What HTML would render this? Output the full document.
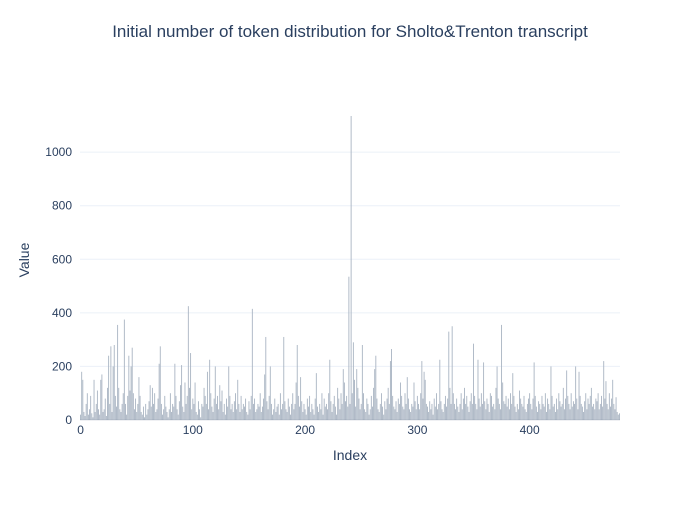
<!DOCTYPE html>
<html><head><meta charset="utf-8"><style>
body{margin:0;background:#fff;}
svg text{font-family:"Liberation Sans",sans-serif;fill:#2a3f5f;}
</style></head><body>
<svg width="700" height="500" id="chart">
<rect width="700" height="500" fill="#fff"/>
<text x="350" y="37" text-anchor="middle" font-size="17">Initial number of token distribution for Sholto&amp;Trenton transcript</text>
<g id="grid"></g>
<g id="bars"></g>
<g id="axes"></g>
<text x="350" y="460" text-anchor="middle" font-size="14">Index</text>
<text x="29" y="260" text-anchor="middle" font-size="14" transform="rotate(-90 29 260)">Value</text>
</svg>
<script>
const values = [
20,180,150,30,15,60,100,20,40,90,25,10,150,30,60,110,40,20,150,170,
30,40,80,15,120,240,60,275,30,200,280,90,50,355,120,40,30,60,100,375,
60,20,90,240,110,200,270,100,40,80,30,60,160,90,30,20,50,10,60,20,
40,70,130,50,120,60,100,30,40,80,210,275,60,20,40,90,50,30,10,40,
100,30,60,50,210,90,40,20,70,130,205,50,30,140,60,90,425,120,250,40,
80,60,140,30,20,70,40,10,60,50,120,90,60,180,40,225,100,50,30,80,
200,60,90,40,130,70,110,30,60,20,80,50,200,90,40,60,30,70,100,40,
150,60,30,90,40,60,50,80,30,20,70,40,90,415,60,80,30,40,60,50,
100,30,50,80,170,310,70,40,90,200,60,20,40,80,30,50,60,20,100,40,
60,310,70,40,30,80,50,20,60,100,40,60,140,280,90,50,160,70,30,60,
40,20,80,50,90,30,60,40,20,80,175,50,30,60,40,100,20,80,50,60,
40,100,225,70,30,60,90,50,20,120,80,40,100,60,190,140,70,90,50,535,
60,1135,100,290,150,50,190,120,80,40,60,280,100,40,30,80,60,20,40,90,
50,120,190,240,80,40,30,60,100,50,20,70,40,80,120,60,220,265,90,50,
40,70,30,80,60,140,90,50,40,100,60,160,80,40,30,60,50,140,70,40,
90,60,40,100,220,80,180,150,60,50,30,70,40,60,20,80,50,100,40,60,
225,70,40,30,60,90,50,80,330,120,60,350,100,60,40,80,50,30,60,100,
40,80,120,60,90,50,30,70,100,60,285,90,60,40,225,80,50,100,60,215,
70,40,80,60,30,100,90,50,60,40,120,200,80,60,40,355,140,70,60,90,
50,80,40,100,60,175,90,50,30,60,40,110,80,60,50,90,40,30,60,80,
100,60,40,80,215,90,50,30,70,60,40,90,60,50,100,30,80,60,40,200,
90,50,60,30,80,40,100,70,50,60,120,40,80,185,90,60,40,100,50,70,
60,200,80,40,180,90,60,50,30,70,100,40,80,60,90,120,50,60,40,80,
70,100,40,60,90,50,220,80,145,60,40,100,50,80,150,60,40,85,30,20,
25];
const xTicks = [0,100,200,300,400];
const yTicks = [0,200,400,600,800,1000];

const NS = "http://www.w3.org/2000/svg";
const L = 80, R = 620, T = 100, B = 420;
const xMin = -0.5, xMax = values.length - 0.5;
const yMax = Math.max(...values) * 1.0526;
const xs = v => L + (v - xMin) / (xMax - xMin) * (R - L);
const ys = v => B - v / yMax * (B - T);
const grid = document.getElementById('grid');
const bars = document.getElementById('bars');
const axes = document.getElementById('axes');
function mk(tag, attrs, parent) {
  const e = document.createElementNS(NS, tag);
  for (const k in attrs) e.setAttribute(k, attrs[k]);
  parent.appendChild(e);
  return e;
}
yTicks.forEach(t => {
  if (t > 0) {
    const g = mk('line', {x1: L, x2: R, y1: ys(t), y2: ys(t), stroke: '#ebf0f8', 'stroke-width': 1}, grid);
    
    
  }
  const tx = mk('text', {x: 72, y: ys(t) + 4, 'text-anchor': 'end', 'font-size': 12}, axes);
  tx.textContent = t;
  
  
});
xTicks.forEach(t => {
  const tx = mk('text', {x: xs(t), y: 434, 'text-anchor': 'middle', 'font-size': 12}, axes);
  tx.textContent = t;
  
  
});
const bw = (R - L) / (xMax - xMin);
values.forEach((v, i) => {
  const r = mk('rect', {x: xs(i) - bw * 0.4, y: ys(v), width: bw * 0.8, height: B - ys(v), fill: '#a9b4c2'}, bars);
  
  
});
const z = mk('line', {x1: L, x2: R, y1: B, y2: B, stroke: '#2a3f5f', 'stroke-width': 0.5, 'stroke-opacity': 0.3}, axes);


</script>
</body></html>
